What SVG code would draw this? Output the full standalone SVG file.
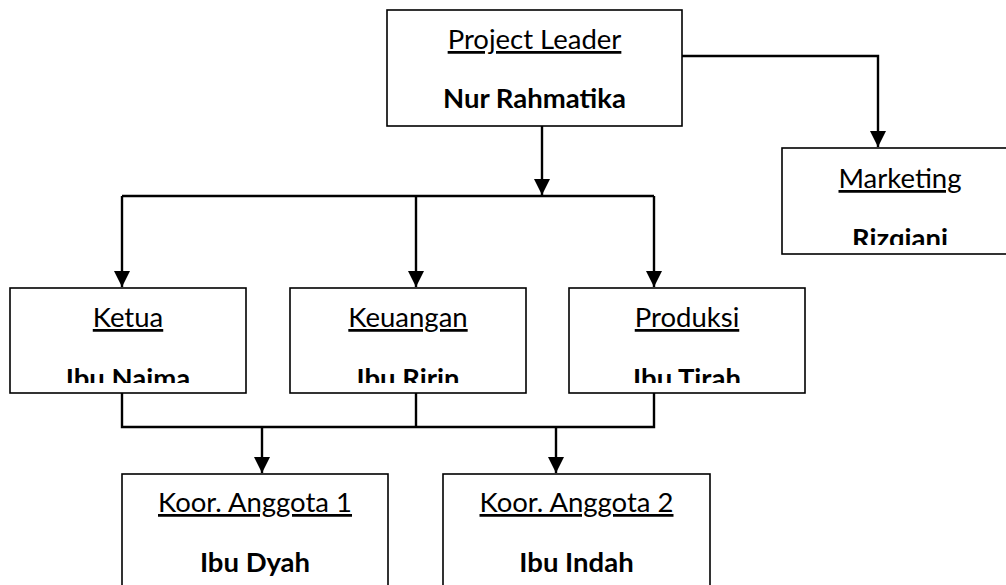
<svg xmlns="http://www.w3.org/2000/svg" width="1006" height="585" viewBox="0 0 1006 585">
<style>
.box{fill:#fff;stroke:#000;stroke-width:1.6}
.t{font-family:Lato,"Open Sans","Liberation Sans",sans-serif;font-size:27.5px;text-anchor:middle;fill:#000;text-decoration:underline}
.n{font-family:Lato,"Open Sans","Liberation Sans",sans-serif;font-size:27.5px;font-weight:bold;text-anchor:middle;fill:#000}
.c{fill:none;stroke:#000;stroke-width:2.4}
</style>
<defs>
<marker id="ah" markerUnits="userSpaceOnUse" markerWidth="16" markerHeight="16" viewBox="0 0 16 16" refX="16" refY="8" orient="auto">
<path d="M0 0 L16 8 L0 16 Z" fill="#000"/>
</marker>
<clipPath id="cK"><rect x="10" y="288" width="236" height="95"/></clipPath>
<clipPath id="cU"><rect x="290" y="288" width="236" height="95"/></clipPath>
<clipPath id="cP"><rect x="569" y="288" width="236" height="95"/></clipPath>
<clipPath id="cM"><rect x="782" y="148" width="236" height="97"/></clipPath>
</defs>
<g id="connectors">
<path class="c" d="M542 126 V195" marker-end="url(#ah)"/>
<path class="c" d="M122 196 H654"/>
<path class="c" d="M122 196 V287" marker-end="url(#ah)"/>
<path class="c" d="M416 196 V287" marker-end="url(#ah)"/>
<path class="c" d="M654 196 V287" marker-end="url(#ah)"/>
<path class="c" d="M682 56 H878 V147" marker-end="url(#ah)"/>
<path class="c" d="M122 393 V427 H654 V393"/>
<path class="c" d="M416 393 V427"/>
<path class="c" d="M262 427 V473" marker-end="url(#ah)"/>
<path class="c" d="M556 427 V473" marker-end="url(#ah)"/>
</g>
<g id="leader">
<rect class="box" x="387" y="10" width="295" height="116"/>
<text class="t" x="534.5" y="49">Project Leader</text>
<text class="n" x="534.5" y="108">Nur Rahmatika</text>
</g>
<g id="marketing">
<rect class="box" x="782" y="148" width="236" height="106"/>
<text class="t" x="900" y="188">Marketing</text>
<text class="n" x="900" y="248" clip-path="url(#cM)">Rizqiani</text>
</g>
<g id="ketua">
<rect class="box" x="10" y="288" width="236" height="105"/>
<text class="t" x="128" y="327">Ketua</text>
<text class="n" x="128" y="388" clip-path="url(#cK)">Ibu Naima</text>
</g>
<g id="keuangan">
<rect class="box" x="290" y="288" width="236" height="105"/>
<text class="t" x="408" y="327">Keuangan</text>
<text class="n" x="408" y="388" clip-path="url(#cU)">Ibu Ririn</text>
</g>
<g id="produksi">
<rect class="box" x="569" y="288" width="236" height="105"/>
<text class="t" x="687" y="327">Produksi</text>
<text class="n" x="687" y="388" clip-path="url(#cP)">Ibu Tirah</text>
</g>
<g id="koor1">
<rect class="box" x="122" y="474" width="266" height="130"/>
<text class="t" x="255" y="512">Koor. Anggota 1</text>
<text class="n" x="255" y="572">Ibu Dyah</text>
</g>
<g id="koor2">
<rect class="box" x="443" y="474" width="267" height="130"/>
<text class="t" x="576.5" y="512">Koor. Anggota 2</text>
<text class="n" x="576.5" y="572">Ibu Indah</text>
</g>
</svg>
